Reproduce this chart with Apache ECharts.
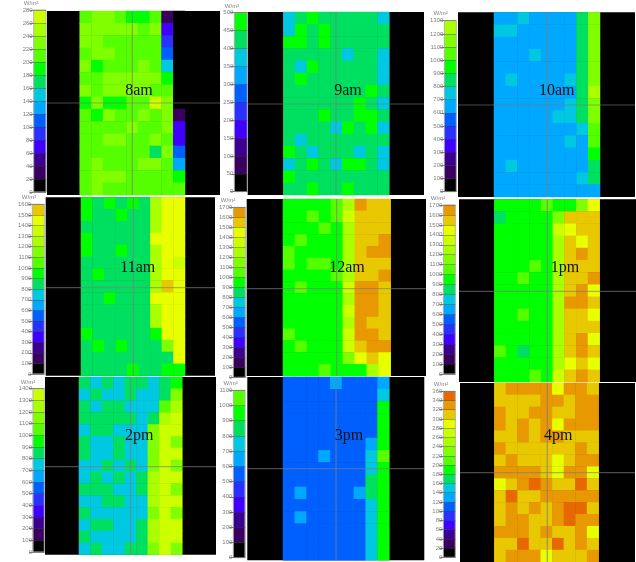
<!DOCTYPE html>
<html><head><meta charset="utf-8">
<script src="https://cdn.jsdelivr.net/npm/echarts@6/dist/echarts.min.js"></script>
<style>html,body{margin:0;padding:0;background:#fff}#c{width:636px;height:562px}#c canvas{filter:blur(0.5px)}</style>
</head><body><div id="c"></div>
<script>
// Shared irradiance colour bands, lowest first
const bandColors = ['#000000','#3a0060','#3c0090','#4000ff','#2a30ff','#0060ff','#00a8ff','#00c8e0','#00e060','#00ff00','#55ff00','#80ff00','#aaff00','#ccff00','#e8ff00','#e8c800','#e89800','#e86800'];
const hours = ['8am','9am','10am','11am','12am','1pm','2pm','3pm','4pm'];
// W/m² per colour band, and number of bands on each colour scale
const bandSteps = [20,50,100,100,100,100,100,100,20];
const bandCounts = [14,10,13,16,17,17,14,11,18];
// Cell readings: colour-band index per cell, rows top to bottom, 9 columns
const cells8am = [[10,11,11,10,9,9,10,1,0],[11,11,11,11,11,10,11,3,0],[11,11,10,10,10,10,10,4,0],[10,11,11,10,10,10,10,5,0],[11,9,10,10,10,11,10,7,0],[10,10,11,11,11,11,11,9,0],[11,10,11,11,11,11,10,10,0],[9,11,9,9,10,10,13,11,0],[10,9,11,10,10,11,10,11,1],[10,10,10,10,11,10,10,11,3],[10,10,11,11,10,10,11,10,3],[10,10,10,10,10,10,8,11,5],[10,11,10,10,10,11,11,10,6],[10,11,11,11,10,10,10,10,9],[10,11,10,10,10,10,10,10,10]];
const cells9am = [[7,8,9,8,8,8,8,8,7],[7,9,8,9,8,8,8,8,8],[9,9,8,9,8,8,8,8,8],[8,8,8,8,8,7,8,8,7],[8,7,9,8,8,8,8,8,7],[8,9,8,8,8,8,8,8,7],[8,8,8,8,8,8,8,9,8],[8,8,8,8,8,8,9,8,7],[8,8,8,9,8,8,9,9,8],[8,8,8,8,7,9,8,9,7],[8,7,8,8,8,8,8,8,8],[9,8,7,8,8,8,7,8,7],[7,8,9,8,7,9,9,8,7],[9,8,8,8,8,8,8,8,8],[8,8,9,8,8,9,8,8,8]];
const cells10am = [[6,6,7,6,6,6,6,8,11],[7,7,6,6,6,6,6,8,11],[6,6,6,6,6,6,6,8,11],[6,6,6,7,6,6,6,8,11],[6,6,6,6,6,6,6,8,11],[6,7,6,6,6,6,7,8,11],[6,6,6,6,6,6,6,8,12],[6,6,6,6,6,6,7,8,11],[6,6,6,6,6,7,7,8,11],[6,6,6,6,6,6,6,7,10],[6,6,6,6,6,6,7,6,10],[6,6,6,6,6,6,6,6,9],[6,7,6,6,6,6,6,6,8],[6,6,6,6,6,6,6,7,8],[6,6,6,6,6,6,6,6,6]];
const cells11am = [[9,8,9,8,9,8,12,14,14],[9,8,8,9,8,8,12,14,14],[8,8,8,8,8,8,12,14,14],[9,8,8,8,8,8,14,14,14],[9,8,8,9,8,8,12,14,14],[8,8,8,8,8,8,12,14,13],[8,9,8,8,8,8,12,14,14],[8,8,8,8,8,8,12,15,14],[8,8,9,8,8,8,14,14,14],[8,8,8,8,8,8,12,14,14],[8,8,8,8,8,8,12,14,14],[9,8,8,8,8,8,9,14,14],[8,9,8,9,8,8,8,11,14],[8,8,8,8,8,8,8,8,14],[8,8,8,8,9,8,8,9,9]];
const cells12am = [[9,9,9,9,10,12,16,15,15],[9,9,10,9,10,13,15,15,15],[9,9,9,10,9,12,15,15,15],[9,10,9,9,9,12,15,15,16],[10,9,9,9,9,12,15,16,16],[10,9,10,10,9,12,15,15,15],[9,9,9,9,10,12,15,15,16],[9,10,9,9,9,13,16,16,15],[9,9,9,9,9,12,16,16,15],[9,9,9,9,9,13,16,16,15],[9,9,9,9,9,12,16,15,15],[10,9,9,9,9,13,16,16,15],[9,10,9,9,9,13,15,16,16],[9,9,9,9,9,11,14,15,14],[9,9,9,10,9,9,9,12,14]];
const cells1pm = [[9,9,9,9,10,9,9,11,14],[8,9,9,9,9,11,15,15,15],[9,9,9,9,9,13,14,15,15],[9,9,9,9,9,12,15,14,15],[9,9,9,9,9,12,15,16,15],[9,9,9,10,9,12,15,15,15],[9,9,10,9,9,12,15,15,16],[9,9,9,9,9,12,15,16,14],[9,9,9,9,9,12,16,16,15],[9,9,10,9,9,12,15,15,14],[9,9,9,9,9,12,15,15,15],[9,9,9,9,9,12,15,16,14],[10,9,8,9,9,12,15,16,15],[9,9,9,9,9,12,14,15,14],[9,9,9,10,9,13,15,16,15]];
const cells2pm = [[8,7,8,7,8,8,7,8,9],[7,8,7,7,8,7,7,8,11],[8,7,8,8,7,7,7,10,12],[8,8,8,8,8,7,8,12,13],[7,8,8,7,7,7,11,13,13],[8,7,7,8,7,7,11,13,11],[8,7,7,8,7,7,11,13,13],[7,7,8,7,8,7,11,13,11],[7,8,7,8,7,8,12,13,13],[8,8,8,7,7,8,12,13,11],[7,7,8,8,7,7,12,13,13],[8,7,7,7,7,7,11,13,11],[7,8,8,7,7,8,12,13,13],[8,7,7,7,7,8,12,13,13],[7,8,7,7,8,8,11,13,11]];
const cells3pm = [[5,5,5,5,6,5,5,5,6],[5,5,5,5,5,5,5,5,7],[5,5,5,5,5,5,5,5,9],[5,5,5,5,5,5,5,5,9],[5,5,5,5,5,5,5,5,9],[5,5,5,5,5,5,5,6,9],[5,5,5,6,5,5,5,7,10],[5,5,5,5,5,5,5,7,9],[5,5,5,5,5,5,5,8,9],[5,6,5,5,5,5,6,8,9],[5,5,5,5,5,5,5,7,9],[5,6,5,5,5,5,5,7,9],[5,5,5,5,5,5,5,7,9],[5,5,5,5,5,5,5,7,9],[5,5,5,5,5,5,5,7,9]];
const cells4pm = [[15,16,16,16,16,14,16,16,15],[15,15,15,15,16,16,15,16,16],[16,15,15,16,16,15,15,16,16],[16,15,16,15,16,14,16,16,16],[15,15,16,15,16,16,15,15,15],[16,15,15,15,15,15,15,16,15],[15,16,15,15,15,14,15,16,16],[16,16,16,16,15,14,16,16,14],[14,15,16,17,16,15,15,17,15],[15,17,15,15,16,16,16,16,16],[15,16,15,16,15,16,17,17,15],[15,16,16,15,15,16,17,16,16],[16,16,16,15,16,15,15,16,14],[15,15,17,15,15,17,15,16,15],[15,16,16,16,14,15,15,15,16]];
const allCells = [cells8am,cells9am,cells10am,cells11am,cells12am,cells1pm,cells2pm,cells3pm,cells4pm];

// Page layout, one entry per panel, in px
const plotBox = [[47,11,220,195],[247.7,12,424,195],[458,12.3,635,197],[45.7,197.3,215,375.7],[246.7,199,426,376],[459,199.3,636,382],[45,377,216,554.7],[247.3,377,424.3,560.3],[460,383,635,564]];
const cellSpan = [[79.7,185],[283.3,389.3],[494,600],[81,185],[283,390.7],[494.3,599.7],[79,182.3],[283,389.3],[494.3,598.7]];
const barBox = [[33.7,10,46,192],[234.3,12.7,247.3,191.7],[444.3,20.7,456.3,191.7],[32.3,204.3,44.3,374],[233.3,207.3,245.3,377.3],[443.3,205,455.3,374],[33,388.7,44.3,552],[233.3,390.3,245,557.7],[443.3,391.3,455.3,557.3]];
const crossAt = [[132.3,103],[336,104],[546.7,105],[133.3,287.7],[336.7,288.7],[547.3,291.3],[130.7,466.7],[336,468.7],[547.3,473.7]];
const hourAt = [[139,91],[348,90.7],[556.7,90.7],[137.7,267.3],[347,267.3],[565,267.3],[139.3,435.3],[349,435.3],[558.3,435.3]];
const unitAt = [[31,3],[232,6],[440.7,13],[29,197.5],[228,200],[438,198],[28,382],[230.7,383.7],[441,384.7]];

const grid=[],xAxis=[],yAxis=[],series=[],visualMap=[],title=[];
const catAxis=(g,n,extra)=>Object.assign({type:'category',gridIndex:g,show:false,boundaryGap:true,data:Array.from({length:n},(_,i)=>i)},extra||{});

hours.forEach((hour,p)=>{
  const [x0,y0,x1,y1]=plotBox[p], [cx0,cx1]=cellSpan[p], [bx0,by0,bx1,by1]=barBox[p];
  const step=bandSteps[p], n=bandCounts[p], rows=allCells[p];
  const gPlot=grid.length, gCells=gPlot+1, gBar=gPlot+2;
  grid.push({left:x0,top:y0,width:x1-x0,height:y1-y0,show:true,backgroundColor:'#000',borderWidth:0,z:0});
  grid.push({left:cx0,top:y0,width:cx1-cx0,height:y1-y0});
  grid.push({left:bx0,top:by0,width:bx1-bx0,height:by1-by0,show:true,backgroundColor:'transparent',borderColor:'#b4b4b4',borderWidth:1,z:5});
  const xPlot=xAxis.length;
  xAxis.push({type:'value',gridIndex:gPlot,show:false,min:x0,max:x1,scale:true},catAxis(gCells,rows[0].length),catAxis(gBar,1));
  const yPlot=yAxis.length;
  yAxis.push({type:'value',gridIndex:gPlot,show:false,min:y0,max:y1,inverse:true,scale:true},catAxis(gCells,rows.length,{inverse:true}),catAxis(gBar,n));
  yAxis.push({type:'value',gridIndex:gBar,min:0,max:step*n,interval:step,position:'left',z:6,
    axisLine:{show:false},axisTick:{show:true,length:4,lineStyle:{color:'#777',width:1}},
    splitLine:{show:true,lineStyle:{color:'rgba(50,60,50,0.4)',width:1}},
    axisLabel:{show:true,fontSize:6,color:'#808080',margin:1,fontFamily:'Liberation Sans',formatter:v=>String(v)}});
  const heatIdx=series.length;
  const cellData=[];
  rows.forEach((r,ri)=>r.forEach((lvl,ci)=>cellData.push([ci,ri,(lvl+0.5)*step])));
  series.push({type:'heatmap',xAxisIndex:xPlot+1,yAxisIndex:yPlot+1,data:cellData,silent:true,z:2,progressive:0,itemStyle:{borderWidth:0}});
  const barData=Array.from({length:n},(_,i)=>[0,i,(i+0.5)*step]);
  series.push({type:'heatmap',xAxisIndex:xPlot+2,yAxisIndex:yPlot+2,data:barData,silent:true,z:2,progressive:0});
  series.push({type:'line',xAxisIndex:xPlot,yAxisIndex:yPlot,data:[[crossAt[p][0],y0],[crossAt[p][0],y1]],symbol:'none',silent:true,z:4,lineStyle:{color:'rgba(125,125,125,0.7)',width:1.2}});
  series.push({type:'line',xAxisIndex:xPlot,yAxisIndex:yPlot,data:[[x0,crossAt[p][1]],[x1,crossAt[p][1]]],symbol:'none',silent:true,z:4,lineStyle:{color:'rgba(125,125,125,0.6)',width:1.2}});
  visualMap.push({type:'piecewise',show:false,seriesIndex:[heatIdx,heatIdx+1],dimension:2,
    pieces:Array.from({length:n},(_,i)=>({min:i*step,max:(i+1)*step,color:bandColors[i]}))});
  title.push({text:hour,left:hourAt[p][0],top:hourAt[p][1],textAlign:'center',textVerticalAlign:'middle',z:8,padding:0,
    textStyle:{fontFamily:'Liberation Serif',fontWeight:'normal',fontSize:16,color:'#111'}});
  title.push({text:'W/m²',left:unitAt[p][0],top:unitAt[p][1],textAlign:'center',textVerticalAlign:'middle',z:8,padding:0,
    textStyle:{fontFamily:'Liberation Sans',fontWeight:'normal',fontSize:6,color:'#808080'}});
});

const chart=echarts.init(document.getElementById('c'),null,{renderer:'canvas'});
chart.setOption({animation:false,backgroundColor:'#fff',title,grid,xAxis,yAxis,visualMap,series});
</script>
</body></html>
